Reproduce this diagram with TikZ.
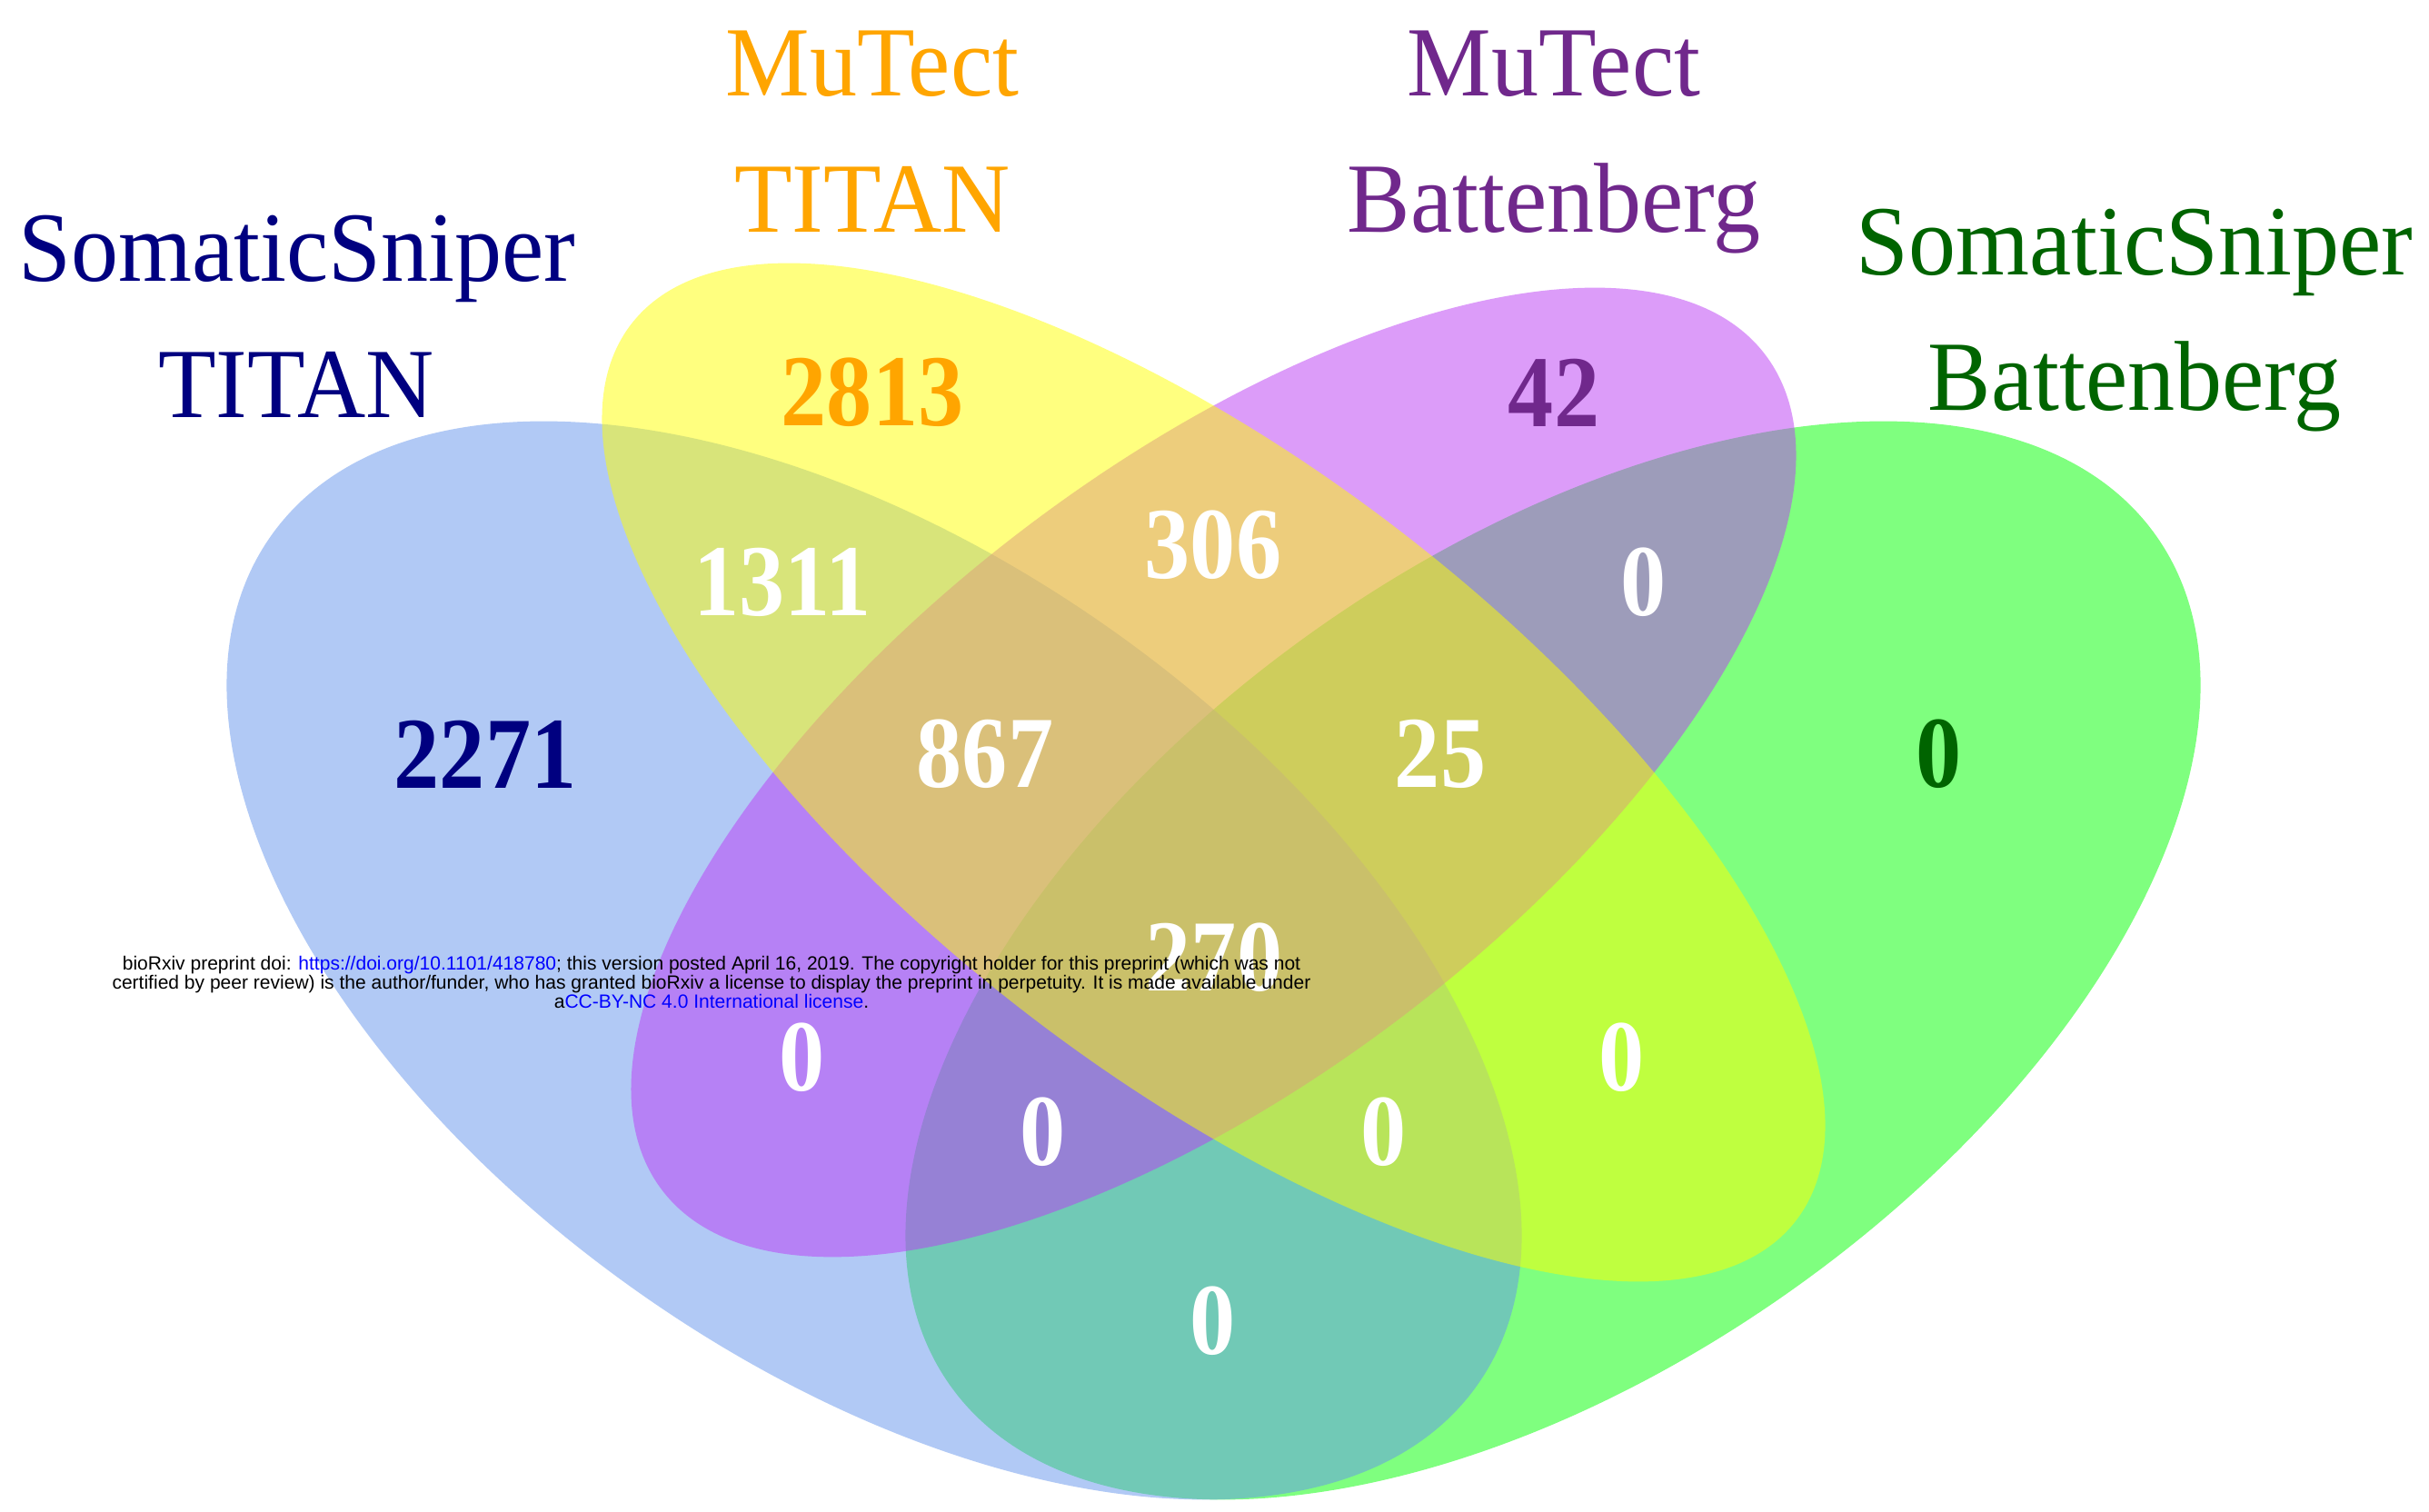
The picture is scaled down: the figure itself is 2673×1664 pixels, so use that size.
\documentclass[tikz,border=0pt]{standalone}
\usepackage{fontspec}
\setmainfont{Liberation Serif}
\newfontfamily\wmfont{Liberation Sans}
\usepackage{graphicx}
\definecolor{cBlue}{RGB}{100,149,237}
\definecolor{cYellow}{RGB}{255,255,0}
\definecolor{cPurple}{RGB}{187,59,245}
\definecolor{cGreen}{RGB}{0,255,0}
\definecolor{tBlue}{RGB}{0,0,128}
\definecolor{tOrange}{RGB}{255,165,0}
\definecolor{tPurple}{RGB}{112,40,140}
\definecolor{tGreen}{RGB}{0,100,0}
\definecolor{linkblue}{RGB}{0,0,255}
\newcommand{\tallsl}[1]{\scalebox{1}[1.05]{#1}}
\newcommand{\tallnum}[1]{\scalebox{1}[1.12]{#1}}
\begin{document}
\begin{tikzpicture}[x=0.01cm,y=0.01cm,
  setfill/.style={fill opacity=0.5},
  setlabel/.style={font=\fontsize{29.6}{30}\selectfont, inner sep=0pt, anchor=base},
  count/.style={font=\fontsize{28.5}{30}\selectfont\bfseries, inner sep=0pt},
  wm/.style={font=\wmfont\fontsize{5.98}{6.2}\selectfont, inner sep=0pt, anchor=base, text=black}]
\useasboundingbox[fill=white] (0,0) rectangle (2673,1664);
% sets: green (bottom), blue, purple, yellow (top)
\fill[cGreen, setfill, shift={(1709,607)}, rotate=35.09] (0,0) ellipse (8.113cm and 4.477cm);
\fill[cBlue, setfill, shift={(962,607)}, rotate=-35.09] (0,0) ellipse (8.113cm and 4.477cm);
\fill[cPurple, setfill, shift={(1335.5,814)}, rotate=37.11] (0,0) ellipse (7.610cm and 3.394cm);
\fill[cYellow, setfill, shift={(1335.5,814)}, rotate=-37.57] (0,0) ellipse (8.083cm and 3.355cm);
% set labels
\node[setlabel, text=tBlue] (lblA1) at (327,1354) {\tallsl{SomaticSniper}};
\node[setlabel, text=tBlue] (lblA2) at (326,1204) {\tallsl{TITAN}};
\node[setlabel, text=tOrange] (lblB1) at (960,1558) {\tallsl{MuTect}};
\node[setlabel, text=tOrange] (lblB2) at (960,1408) {\tallsl{TITAN}};
\node[setlabel, text=tPurple] (lblC1) at (1710,1558) {\tallsl{MuTect}};
\node[setlabel, text=tPurple] (lblC2) at (1710,1408) {\tallsl{Battenberg}};
\node[setlabel, text=tGreen] (lblD1) at (2349,1361) {\tallsl{SomaticSniper}};
\node[setlabel, text=tGreen] (lblD2) at (2349,1212) {\tallsl{Battenberg}};
% counts
\node[count, text=tOrange] (nB) at (960,1232) {\tallnum{2813}};
\node[count, text=tPurple] (nC) at (1710,1232) {\tallnum{42}};
\node[count, text=white] (nAB) at (861,1023) {\tallnum{1311}};
\node[count, text=white] (nBC) at (1335,1064) {\tallnum{306}};
\node[count, text=white] (nCD) at (1809,1023) {\tallnum{0}};
\node[count, text=tBlue] (nA) at (534,834) {\tallnum{2271}};
\node[count, text=white] (nABC) at (1084,834) {\tallnum{867}};
\node[count, text=white] (nBCD) at (1585,834) {\tallnum{25}};
\node[count, text=tGreen] (nD) at (2134,834) {\tallnum{0}};
\node[count, text=white] (nABCD) at (1336,610) {\tallnum{270}};
\node[count, text=white] (nAC) at (883,500) {\tallnum{0}};
\node[count, text=white] (nBD) at (1785,500) {\tallnum{0}};
\node[count, text=white] (nACD) at (1148,418) {\tallnum{0}};
\node[count, text=white] (nABD) at (1523,418) {\tallnum{0}};
\node[count, text=white] (nAD) at (1335,210) {\tallnum{0}};
% watermark
\node[wm] (wm1) at (783,596) {bioRxiv preprint doi: \textcolor{linkblue}{https://doi.org/10.1101/418780}; this version posted April 16, 2019. The copyright holder for this preprint (which was not};
\node[wm] (wm2) at (783,575) {certified by peer review) is the author/funder, who has granted bioRxiv a license to display the preprint in perpetuity. It is made available under};
\node[wm] (wm3) at (783,554) {a\textcolor{linkblue}{CC-BY-NC 4.0 International license}.};
\end{tikzpicture}
\end{document}
